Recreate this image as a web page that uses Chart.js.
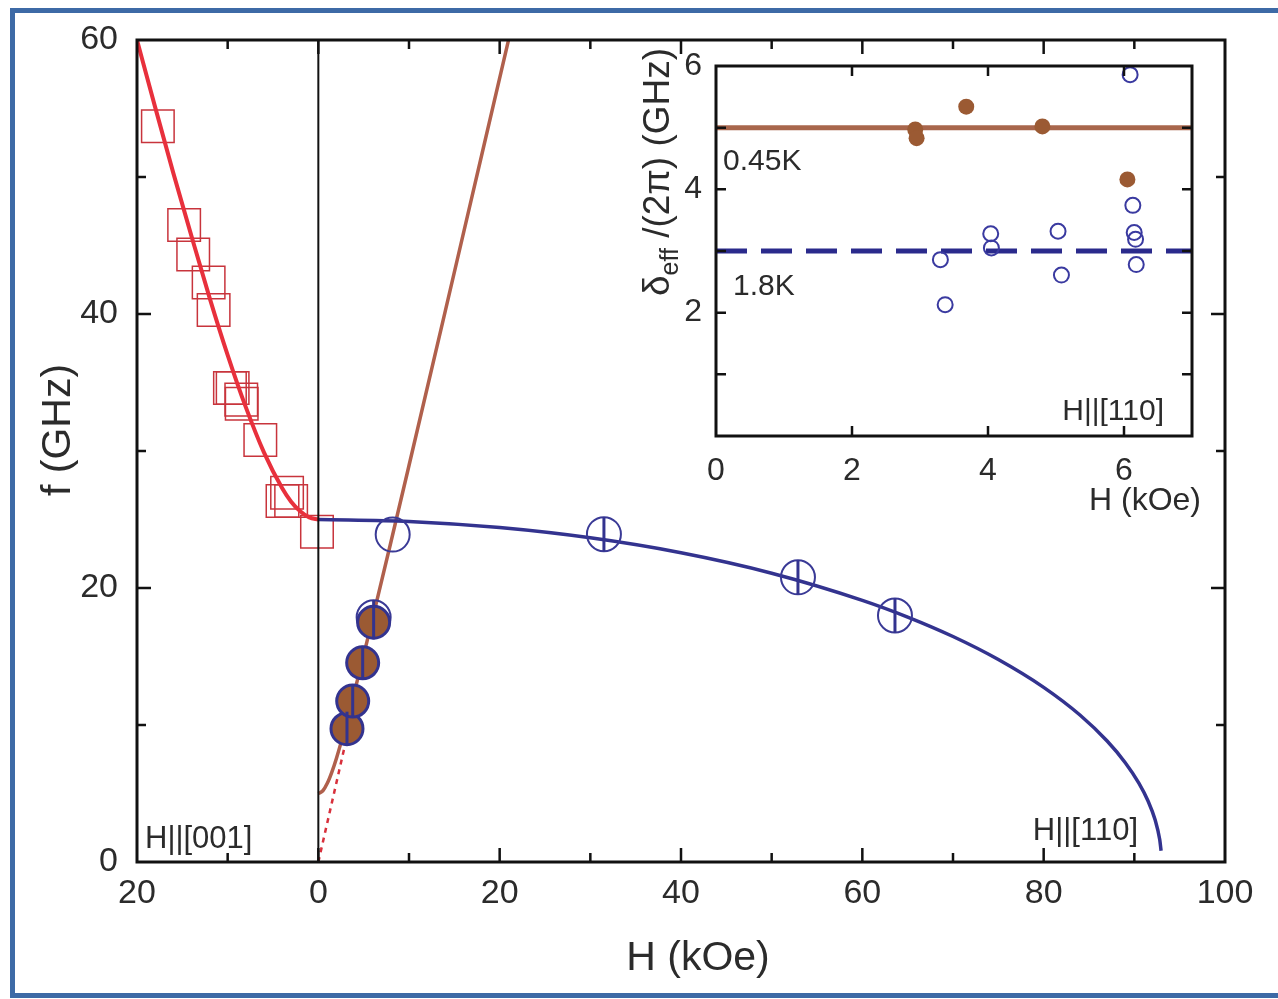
<!DOCTYPE html>
<html>
<head>
<meta charset="utf-8">
<script src="https://cdn.jsdelivr.net/npm/chart.js@4.4.1/dist/chart.umd.min.js"></script>
<style>
  html, body { margin: 0; padding: 0; background: #fff; overflow: hidden; width: 1278px; height: 999px; }
  #wrap { position: relative; width: 1278px; height: 999px; overflow: hidden; }
  #frame { position: absolute; left: 10px; top: 8px; width: 1320px; height: 990px; box-sizing: border-box;
           border: 5px solid #3d6aa6; border-right: none; }
  #main { position: absolute; left: 0; top: 0; }
  #inset { position: absolute; left: 600px; top: 30px; }
</style>
</head>
<body>
<div id="wrap">
  <div id="frame"></div>
  <canvas id="main" width="1278" height="999"></canvas>
  <canvas id="inset" width="620" height="500"></canvas>
</div>
<script>
const FONT = "'Liberation Sans', Arial, Helvetica, sans-serif";
const INK = '#2b2b2b';

// ---- main panel: resonance frequency vs field ----
// H || [001] (plotted on the negative side, labelled by |H|)
const sqH = [-17.7, -14.8, -13.8, -12.1, -11.55, -9.75, -9.45, -8.5, -8.45, -6.4, -3.45, -3.95, -3.0, -0.15];
const sqF = [53.7, 46.5, 44.35, 42.3, 40.3, 34.6, 34.6, 33.75, 33.45, 30.8, 26.95, 26.35, 26.35, 24.1];
const redFitH = [-20, -18, -16, -14, -12, -10, -8, -6, -4, -3, -2, -1, 0];
const redFitF = [60.0, 55.1, 50.3, 45.7, 41.2, 37.0, 33.2, 29.9, 27.3, 26.3, 25.6, 25.15, 25.0];

// H || [110]
const brownFitH = [0, 0.5, 1, 1.5, 2, 3, 4, 5, 6, 8, 10, 14, 18, 21.2];
const brownFitF = [5.0, 5.2, 5.76, 6.58, 7.58, 9.9, 12.45, 15.1, 17.82, 23.34, 28.94, 40.21, 51.55, 60.63];
const gapless0H = [0, 3.1];
const gapless0F = [0, 9.0];
const blueFitH = [0, 10, 20, 30, 40, 50, 60, 65, 70, 75, 80, 84, 87, 89, 90.5, 91.5, 92.3, 92.8, 92.95];
const blueFitF = [25.0, 24.86, 24.41, 23.66, 22.57, 21.08, 19.10, 17.88, 16.46, 14.78, 12.75, 10.73, 8.83, 7.25, 5.76, 4.47, 3.06, 1.64, 0.82];

const open18H = [6.1, 8.2, 31.5, 52.9, 63.6];          // 1.8 K, open circles
const open18F = [17.86, 23.9, 23.93, 20.78, 17.99];
const bar18H = [6.1, 31.5, 52.9, 63.6];
const bar18F = [17.86, 23.93, 20.78, 17.99];
const filled045H = [3.16, 3.79, 4.89, 6.10];           // 0.45 K, filled circles
const filled045F = [9.73, 11.75, 14.54, 17.50];

const mainXTickValues = [-20, 0, 20, 40, 60, 80, 100];
const mainXTickLabels = ['20', '0', '20', '40', '60', '80', '100'];
const mainYTickValues = [0, 20, 40, 60];
const mainYTickLabels = ['0', '20', '40', '60'];

// ---- inset: effective gap vs field, H || [110] ----
const inset045H = [2.93, 2.95, 3.68, 4.80, 6.05];
const inset045D = [4.97, 4.83, 5.34, 5.02, 4.16];
const inset18H = [6.09, 3.30, 3.37, 4.04, 4.05, 5.03, 5.08, 6.13, 6.15, 6.17, 6.18];
const inset18D = [5.86, 2.86, 2.13, 3.28, 3.05, 3.32, 2.61, 3.74, 3.30, 3.19, 2.78];
const meanLineH = [0, 7];
const mean045D = [5.0, 5.0];
const mean18D = [3.0, 3.0];
const insetXTickLabels = ['0', '2', '4', '6'];
const insetYTickLabels = ['2', '4', '6'];

const pts = (h, v) => h.map((x, i) => ({ x, y: v[i] }));

// inward tick marks on all four sides plus the box frame
function boxTicks(cfg) {
  return {
    id: 'boxTicks_' + cfg.name,
    afterDatasetsDraw(chart) {
      const { ctx, chartArea: a, scales } = chart;
      const xs = scales.x, ys = scales.y;
      ctx.save();
      ctx.strokeStyle = '#111';
      ctx.lineWidth = cfg.tickWidth;
      ctx.beginPath();
      xs.ticks.forEach(t => {
        const p = xs.getPixelForValue(t.value);
        if (p <= a.left + 1 || p >= a.right - 1) return;
        const L = (Math.abs(t.value) % cfg.xMajor === 0) ? cfg.majorLen : cfg.minorLen;
        ctx.moveTo(p, a.bottom); ctx.lineTo(p, a.bottom - L);
        ctx.moveTo(p, a.top); ctx.lineTo(p, a.top + L);
      });
      ys.ticks.forEach(t => {
        const p = ys.getPixelForValue(t.value);
        if (p <= a.top + 1 || p >= a.bottom - 1) return;
        const L = (Math.abs(t.value) % cfg.yMajor === 0) ? cfg.majorLen : cfg.minorLen;
        ctx.moveTo(a.left, p); ctx.lineTo(a.left + L, p);
        ctx.moveTo(a.right, p); ctx.lineTo(a.right - L, p);
      });
      ctx.stroke();
      if (cfg.zeroLine) {
        const z = xs.getPixelForValue(0);
        ctx.lineWidth = 2;
        ctx.beginPath();
        ctx.moveTo(z, a.top); ctx.lineTo(z, a.bottom);
        ctx.stroke();
      }
      ctx.lineWidth = cfg.frameWidth;
      ctx.strokeRect(a.left, a.top, a.right - a.left, a.bottom - a.top);
      ctx.restore();
    }
  };
}

// free text: axis titles and annotations
function textLayer(name, items) {
  return {
    id: 'text_' + name,
    afterDraw(chart) {
      const ctx = chart.ctx;
      ctx.save();
      ctx.fillStyle = INK;
      ctx.textBaseline = 'alphabetic';
      items.forEach(it => {
        ctx.save();
        ctx.translate(it.x, it.y);
        if (it.rotate) ctx.rotate(-Math.PI / 2);
        if (it.parts) {
          let total = 0;
          it.parts.forEach(p => { ctx.font = p.size + 'px ' + FONT; total += ctx.measureText(p.t).width; });
          let x = -total / 2;
          ctx.textAlign = 'left';
          it.parts.forEach(p => {
            ctx.font = p.size + 'px ' + FONT;
            ctx.fillText(p.t, x, p.dy || 0);
            x += ctx.measureText(p.t).width;
          });
        } else {
          ctx.font = it.size + 'px ' + FONT;
          ctx.textAlign = it.align || 'left';
          ctx.fillText(it.t, 0, 0);
        }
        ctx.restore();
      });
      ctx.restore();
    }
  };
}

const BLUE = '#33338f';
const BROWN_LINE = '#b0604c';
const BROWN_FILL = '#9b5a33';
const RED = '#e8303c';
const RED_SQ = '#c8343c';

new Chart(document.getElementById('main'), {
  type: 'scatter',
  data: {
    datasets: [
      { data: pts(sqH, sqF), pointStyle: 'rect', pointRadius: 23, pointBorderWidth: 1.5,
        pointBorderColor: RED_SQ, pointBackgroundColor: 'rgba(0,0,0,0)', order: 9 },
      { data: pts(redFitH, redFitF), showLine: true, pointRadius: 0, borderColor: RED, borderWidth: 4,
        cubicInterpolationMode: 'monotone', order: 8 },
      { data: pts(gapless0H, gapless0F), showLine: true, pointRadius: 0, borderColor: '#d8303c', borderWidth: 2.5,
        borderDash: [5, 5], order: 7 },
      { data: pts(brownFitH, brownFitF), showLine: true, pointRadius: 0, borderColor: BROWN_LINE, borderWidth: 3.5,
        cubicInterpolationMode: 'monotone', order: 6 },
      { data: pts(blueFitH, blueFitF), showLine: true, pointRadius: 0, borderColor: BLUE, borderWidth: 3.5,
        cubicInterpolationMode: 'monotone', order: 5 },
      { data: pts(open18H, open18F), pointStyle: 'circle', pointRadius: 17, pointBorderWidth: 2,
        pointBorderColor: '#3a3a96', pointBackgroundColor: 'rgba(0,0,0,0)', order: 4 },
      { data: pts(bar18H, bar18F), pointStyle: 'line', pointRotation: 90, pointRadius: 17, pointBorderWidth: 3,
        pointBorderColor: BLUE, order: 3 },
      { data: pts(filled045H, filled045F), pointStyle: 'circle', pointRadius: 16, pointBorderWidth: 3,
        pointBorderColor: BLUE, pointBackgroundColor: BROWN_FILL, order: 2 },
      { data: pts(filled045H, filled045F), pointStyle: 'line', pointRotation: 90, pointRadius: 17, pointBorderWidth: 3,
        pointBorderColor: BLUE, order: 1 }
    ]
  },
  options: {
    responsive: false, animation: false, events: [],
    layout: { padding: { left: 0, right: 53, top: 40, bottom: 0 } },
    plugins: { legend: { display: false }, tooltip: { enabled: false } },
    scales: {
      x: {
        type: 'linear', min: -20, max: 100,
        grid: { display: false }, border: { display: false },
        afterFit: s => { s.height = 137; },
        ticks: {
          stepSize: 10, autoSkip: false, maxRotation: 0, padding: 3, color: INK,
          font: { family: FONT, size: 34 },
          callback: v => { const i = mainXTickValues.indexOf(v); return i >= 0 ? mainXTickLabels[i] : ''; }
        }
      },
      y: {
        type: 'linear', min: 0, max: 60,
        grid: { display: false }, border: { display: false },
        afterFit: s => { s.width = 137; },
        ticks: {
          stepSize: 10, autoSkip: false, padding: 11, color: INK,
          font: { family: FONT, size: 34 },
          callback: v => { const i = mainYTickValues.indexOf(v); return i >= 0 ? mainYTickLabels[i] : ''; }
        }
      }
    }
  },
  plugins: [
    boxTicks({ name: 'main', xMajor: 20, yMajor: 20, majorLen: 14, minorLen: 9, tickWidth: 2.5, frameWidth: 3, zeroLine: true }),
    textLayer('main', [
      { t: 'f (GHz)', x: 70, y: 430, size: 41, rotate: true, align: 'center' },
      { t: 'H (kOe)', x: 698, y: 970, size: 41, align: 'center' },
      { t: 'H||[001]', x: 145, y: 848, size: 31, align: 'left' },
      { t: 'H||[110]', x: 1138, y: 840, size: 31, align: 'right' }
    ])
  ]
});

new Chart(document.getElementById('inset'), {
  type: 'scatter',
  data: {
    datasets: [
      { data: pts(meanLineH, mean045D), showLine: true, pointRadius: 0, borderColor: '#a8664c', borderWidth: 5, order: 4 },
      { data: pts(meanLineH, mean18D), showLine: true, pointRadius: 0, borderColor: '#2a2a8c', borderWidth: 5,
        borderDash: [31, 14], order: 3 },
      { data: pts(inset045H, inset045D), pointStyle: 'circle', pointRadius: 8, pointBorderWidth: 0,
        pointBackgroundColor: BROWN_FILL, order: 2 },
      { data: pts(inset18H, inset18D), pointStyle: 'circle', pointRadius: 7.5, pointBorderWidth: 2,
        pointBorderColor: '#3a3aa0', pointBackgroundColor: 'rgba(0,0,0,0)', order: 1 }
    ]
  },
  options: {
    responsive: false, animation: false, events: [],
    layout: { padding: { left: 0, right: 28, top: 36, bottom: 0 } },
    plugins: { legend: { display: false }, tooltip: { enabled: false } },
    scales: {
      x: {
        type: 'linear', min: 0, max: 7,
        grid: { display: false }, border: { display: false },
        afterFit: s => { s.height = 94; },
        ticks: {
          stepSize: 2, includeBounds: false, autoSkip: false, maxRotation: 0, padding: 8, color: INK,
          font: { family: FONT, size: 32 },
          callback: v => insetXTickLabels.includes(String(v)) ? String(v) : ''
        }
      },
      y: {
        type: 'linear', min: 0, max: 6,
        grid: { display: false }, border: { display: false },
        afterFit: s => { s.width = 116; },
        ticks: {
          stepSize: 1, autoSkip: false, padding: 6, color: INK,
          font: { family: FONT, size: 32 },
          callback: v => insetYTickLabels.includes(String(v)) ? String(v) : ''
        }
      }
    }
  },
  plugins: [
    boxTicks({ name: 'inset', xMajor: 2, yMajor: 1, majorLen: 10, minorLen: 10, tickWidth: 2.5, frameWidth: 3, zeroLine: false }),
    textLayer('inset', [
      { t: '0.45K', x: 123, y: 140, size: 30, align: 'left' },
      { t: '1.8K', x: 133, y: 265, size: 30, align: 'left' },
      { t: 'H||[110]', x: 564, y: 390, size: 30, align: 'right' },
      { t: 'H (kOe)', x: 545, y: 480, size: 32, align: 'center' },
      { x: 69, y: 142, rotate: true, parts: [
        { t: 'δ', size: 37 }, { t: 'eff', size: 25, dy: 9 }, { t: ' /(2π) (GHz)', size: 37 }
      ] }
    ])
  ]
});
</script>
</body>
</html>
